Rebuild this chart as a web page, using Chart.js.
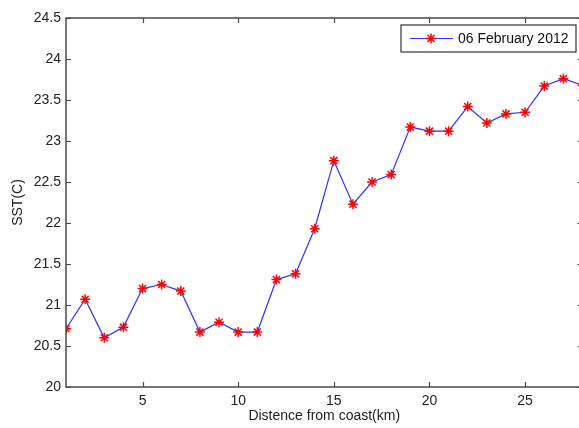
<!DOCTYPE html>
<html lang="en">
<head>
    <meta charset="UTF-8">
    <title>SST</title>
    <script src="https://cdn.jsdelivr.net/npm/chart.js"></script>
    <style>
        html, body { margin: 0; padding: 0; background: #fff; overflow: hidden; }
        #wrap { width: 589px; height: 428px; }
    </style>
</head>
<body>
    <div id="wrap"><canvas id="sstChart" width="589" height="428"></canvas></div>
    <script>
        // distance from coast (km) and SST values
        const distance = [1, 2, 3, 4, 5, 6, 7, 8, 9, 10, 11, 12, 13, 14, 15, 16, 17, 18, 19, 20, 21, 22, 23, 24, 25, 26, 27, 28];
        const sst = [20.71, 21.07, 20.6, 20.73, 21.2, 21.25, 21.17, 20.67, 20.79, 20.67, 20.67, 21.31, 21.38, 21.93,
                     22.76, 22.23, 22.5, 22.59, 23.17, 23.12, 23.12, 23.42, 23.22, 23.33, 23.35, 23.67, 23.76, 23.68];
        const xTicks = [5, 10, 15, 20, 25];
        const yTicks = [20, 20.5, 21, 21.5, 22, 22.5, 23, 23.5, 24, 24.5];
        const seriesLabel = "06 February 2012";

        const font = "Arial, 'Liberation Sans', sans-serif";

        // matlab style box with inward ticks + legend
        const matlabBox = {
            id: "matlabBox",
            afterDatasetsDraw(chart) {
                const ctx = chart.ctx;
                const a = chart.chartArea;
                const xs = chart.scales.x, ys = chart.scales.y;
                ctx.save();
                ctx.strokeStyle = "#4a4a4a";
                ctx.lineWidth = 1.5;
                ctx.strokeRect(a.left, a.top, a.right - a.left, a.bottom - a.top);
                ctx.lineWidth = 1.2;
                ctx.beginPath();
                xTicks.forEach(v => {
                    const px = Math.round(xs.getPixelForValue(v)) + 0.5;
                    ctx.moveTo(px, a.bottom); ctx.lineTo(px, a.bottom - 5);
                    ctx.moveTo(px, a.top); ctx.lineTo(px, a.top + 5);
                });
                yTicks.forEach(v => {
                    const py = Math.round(ys.getPixelForValue(v)) + 0.5;
                    ctx.moveTo(a.left, py); ctx.lineTo(a.left + 5, py);
                    ctx.moveTo(a.right, py); ctx.lineTo(a.right - 5, py);
                });
                ctx.stroke();

                // legend
                const bx = 401, by = 25, bw = 175, bh = 27;
                ctx.fillStyle = "#fff";
                ctx.fillRect(bx, by, bw, bh);
                ctx.strokeStyle = "#333";
                ctx.lineWidth = 1.2;
                ctx.strokeRect(bx, by, bw, bh);
                const ly = by + bh / 2;
                ctx.strokeStyle = "#3030ff";
                ctx.lineWidth = 1.2;
                ctx.beginPath();
                ctx.moveTo(bx + 9, ly); ctx.lineTo(bx + 52, ly);
                ctx.stroke();
                ctx.strokeStyle = "#ff0000";
                ctx.lineWidth = 1.5;
                Chart.helpers.drawPoint(ctx, { pointStyle: "star", radius: 5, borderWidth: 1.5 }, bx + 30, ly);
                ctx.fillStyle = "#111";
                ctx.font = "14px " + font;
                ctx.textBaseline = "middle";
                ctx.textAlign = "left";
                ctx.fillText(chart.data.datasets[0].label, bx + 57, ly + 1);
                ctx.restore();
            }
        };

        new Chart(document.getElementById("sstChart"), {
            type: "line",
            data: {
                datasets: [{
                    label: seriesLabel,
                    data: distance.map((d, i) => ({ x: d, y: sst[i] })),
                    borderColor: "#3030ff",
                    borderWidth: 1.2,
                    pointStyle: "star",
                    pointRadius: 5,
                    pointBorderColor: "#ff0000",
                    pointBorderWidth: 1.5,
                    pointBackgroundColor: "#ff0000",
                    tension: 0
                }]
            },
            options: {
                responsive: false,
                animation: false,
                layout: { padding: { top: 18, right: 1, left: 0, bottom: 0 } },
                plugins: { legend: { display: false }, tooltip: { enabled: false } },
                scales: {
                    x: {
                        type: "linear",
                        min: 1, max: 28,
                        grid: { display: false, drawTicks: false, tickLength: 0 },
                        border: { display: false },
                        afterBuildTicks(s) { s.ticks = xTicks.map(v => ({ value: v })); },
                        afterFit(s) { s.height = 41; },
                        ticks: { color: "#222", font: { family: font, size: 14 }, padding: 6, maxRotation: 0 },
                        title: { display: true, text: "Distence from coast(km)", color: "#222",
                                 font: { family: font, size: 14 }, padding: { top: 0, bottom: 3 } }
                    },
                    y: {
                        min: 20, max: 24.5,
                        grid: { display: false, drawTicks: false, tickLength: 0 },
                        border: { display: false },
                        afterBuildTicks(s) { s.ticks = yTicks.map(v => ({ value: v })); },
                        afterFit(s) { s.width = 66; },
                        ticks: { color: "#222", font: { family: font, size: 14 }, padding: 5,
                                 callback: v => String(v) },
                        title: { display: true, text: "SST(C)", color: "#222",
                                 font: { family: font, size: 14 }, padding: { top: 10, bottom: 0 } }
                    }
                }
            },
            plugins: [matlabBox]
        });
    </script>
</body>
</html>
